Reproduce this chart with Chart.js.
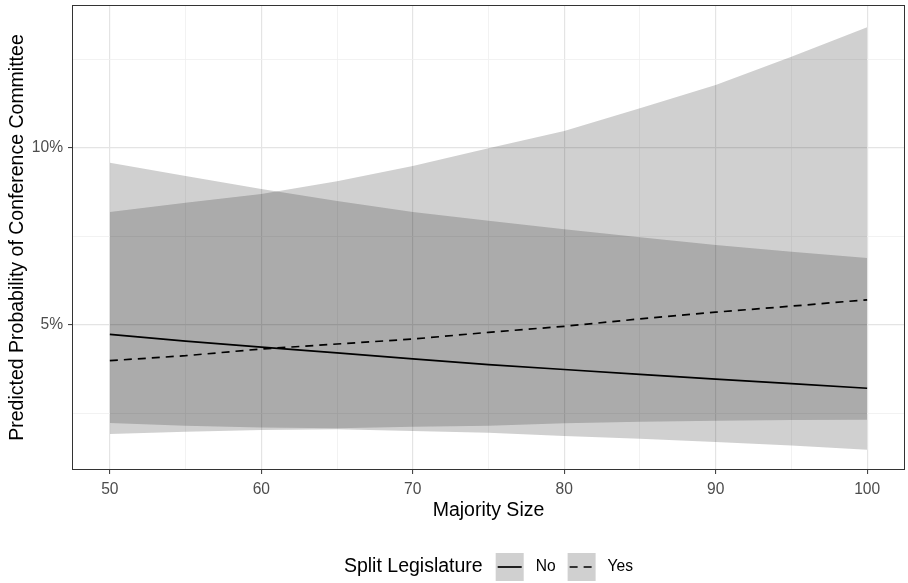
<!DOCTYPE html>
<html>
<head>
<meta charset="utf-8">
<script src="https://cdn.jsdelivr.net/npm/chart.js@4.4.1/dist/chart.umd.min.js"></script>
<style>
  html, body { margin: 0; padding: 0; background: #fff; }
  #wrap { width: 908px; height: 583px; position: relative; }
</style>
</head>
<body>
<div id="wrap"><canvas id="chart"></canvas></div>
<script>
// Majority size (x) and predicted probabilities (%)
const majority = [50, 55, 60, 65, 70, 75, 80, 85, 90, 95, 100];

const noFit   = [4.73, 4.54, 4.37, 4.21, 4.04, 3.88, 3.74, 3.60, 3.47, 3.34, 3.21];
const noLower = [2.23, 2.15, 2.10, 2.08, 2.12, 2.15, 2.22, 2.26, 2.29, 2.31, 2.32];
const noUpper = [9.58, 9.21, 8.84, 8.50, 8.19, 7.94, 7.70, 7.48, 7.26, 7.07, 6.89];

const yesFit   = [3.99, 4.13, 4.32, 4.46, 4.60, 4.79, 4.96, 5.17, 5.36, 5.53, 5.71];
const yesLower = [1.92, 1.98, 2.03, 2.05, 2.00, 1.95, 1.86, 1.78, 1.69, 1.59, 1.47];
const yesUpper = [8.19, 8.45, 8.70, 9.06, 9.49, 9.99, 10.48, 11.12, 11.78, 12.58, 13.41];

const xTicks = [50, 55, 60, 65, 70, 75, 80, 85, 90, 95, 100];
const yTicks = [2.5, 5, 7.5, 10, 12.5];

const legendTitle = "Split Legislature";
const legendLabels = ["No", "Yes"];

const BAND = "rgba(20, 20, 20, 0.2)";
const FONT = '"Liberation Sans", Arial, Helvetica, sans-serif';

Chart.defaults.font.family = FONT;

function pts(values) {
  return majority.map((x, i) => ({ x: x, y: values[i] }));
}

function isMajor(v) {
  return v % 10 === 0 || v === 5;
}

// panel border + legend at the bottom (ggplot style)
const ggExtras = {
  id: "ggExtras",
  afterDatasetsDraw(chart) {
    const { ctx, chartArea: a } = chart;
    ctx.save();
    ctx.strokeStyle = "#333333";
    ctx.lineWidth = 1;
    ctx.strokeRect(a.left + 0.5, a.top + 0.5, a.right - a.left - 1, a.bottom - a.top - 1);
    ctx.restore();
  },
  afterDraw(chart) {
    const { ctx, chartArea: a } = chart;
    const box = 28, gapBox = 12, gapItem = 12, gapTitle = 13;
    const cy = 567;

    ctx.save();
    ctx.textBaseline = "middle";
    ctx.font = "19.5px " + FONT;
    const wTitle = ctx.measureText(legendTitle).width;
    ctx.font = "15.6px " + FONT;
    const wLabels = legendLabels.map(l => ctx.measureText(l).width);

    const total = wTitle + gapTitle + (box + gapBox) * 2 + wLabels[0] + gapItem + wLabels[1];
    let x = (a.left + a.right) / 2 - total / 2;

    ctx.fillStyle = "#000";
    ctx.font = "19.5px " + FONT;
    ctx.fillText(legendTitle, x, cy);
    x += wTitle + gapTitle;

    const lineSets = chart.data.datasets.slice(0, 2);
    lineSets.forEach((ds, i) => {
      ctx.fillStyle = "#fff";
      ctx.fillRect(x, cy - box / 2, box, box);
      ctx.fillStyle = BAND;
      ctx.fillRect(x, cy - box / 2, box, box);
      ctx.beginPath();
      ctx.strokeStyle = ds.borderColor;
      ctx.lineWidth = ds.borderWidth;
      ctx.setLineDash(ds.borderDash || []);
      ctx.moveTo(x + 2, cy);
      ctx.lineTo(x + box - 2, cy);
      ctx.stroke();
      ctx.setLineDash([]);
      x += box + gapBox;
      ctx.fillStyle = "#000";
      ctx.font = "15.6px " + FONT;
      ctx.fillText(legendLabels[i], x, cy);
      x += wLabels[i] + gapItem;
    });
    ctx.restore();
  }
};

const ctx = document.getElementById("chart").getContext("2d");

new Chart(ctx, {
  type: "line",
  data: {
    datasets: [
      { label: "No", data: pts(noFit), borderColor: "#000", borderWidth: 1.7,
        pointRadius: 0, fill: false, tension: 0 },
      { label: "Yes", data: pts(yesFit), borderColor: "#000", borderWidth: 1.7,
        borderDash: [8, 6], pointRadius: 0, fill: false, tension: 0 },
      { label: "No lower", data: pts(noLower), borderColor: "transparent", borderWidth: 0,
        pointRadius: 0, fill: false },
      { label: "No upper", data: pts(noUpper), borderColor: "transparent", borderWidth: 0,
        pointRadius: 0, fill: "-1", backgroundColor: BAND },
      { label: "Yes lower", data: pts(yesLower), borderColor: "transparent", borderWidth: 0,
        pointRadius: 0, fill: false },
      { label: "Yes upper", data: pts(yesUpper), borderColor: "transparent", borderWidth: 0,
        pointRadius: 0, fill: "-1", backgroundColor: BAND }
    ]
  },
  options: {
    responsive: true,
    maintainAspectRatio: false,
    animation: false,
    layout: { padding: { top: 5, right: 3, bottom: 60, left: 0 } },
    plugins: {
      legend: { display: false },
      tooltip: { enabled: false }
    },
    scales: {
      x: {
        type: "linear",
        min: 47.5,
        max: 102.5,
        afterBuildTicks: s => { s.ticks = xTicks.map(v => ({ value: v })); },
        afterFit: s => { s.height = 53; s.paddingLeft = 0; s.paddingRight = 0; },
        border: { display: false },
        grid: {
          color: c => isMajor(c.tick.value) ? "#e4e4e4" : "#efefef",
          lineWidth: c => isMajor(c.tick.value) ? 1.2 : 0.8,
          tickColor: c => c.tick.value % 10 === 0 ? "#333333" : "transparent",
          tickLength: 4,
          tickWidth: 1
        },
        ticks: {
          autoSkip: false,
          maxRotation: 0,
          padding: 6,
          color: "#4d4d4d",
          font: { size: 15.6 },
          callback: v => v % 10 === 0 ? String(v) : ""
        },
        title: {
          display: true,
          text: "Majority Size",
          color: "#000",
          font: { size: 19.5 },
          padding: { top: 0, bottom: 1 }
        }
      },
      y: {
        type: "linear",
        min: 0.9,
        max: 14.04,
        afterBuildTicks: s => { s.ticks = yTicks.map(v => ({ value: v })); },
        afterFit: s => { s.width = 72; s.paddingTop = 0; s.paddingBottom = 0; },
        border: { display: false },
        grid: {
          color: c => c.tick.value % 5 === 0 ? "#e4e4e4" : "#efefef",
          lineWidth: c => c.tick.value % 5 === 0 ? 1.2 : 0.8,
          tickColor: c => c.tick.value % 5 === 0 ? "#333333" : "transparent",
          tickLength: 4,
          tickWidth: 1
        },
        ticks: {
          padding: 5,
          color: "#4d4d4d",
          font: { size: 15.6 },
          callback: v => v % 5 === 0 ? v + "%" : ""
        },
        title: {
          display: true,
          text: "Predicted Probability of Conference Committee",
          color: "#000",
          font: { size: 19.5 },
          padding: { top: 6, bottom: 0 }
        }
      }
    }
  },
  plugins: [ggExtras]
});
</script>
</body>
</html>
